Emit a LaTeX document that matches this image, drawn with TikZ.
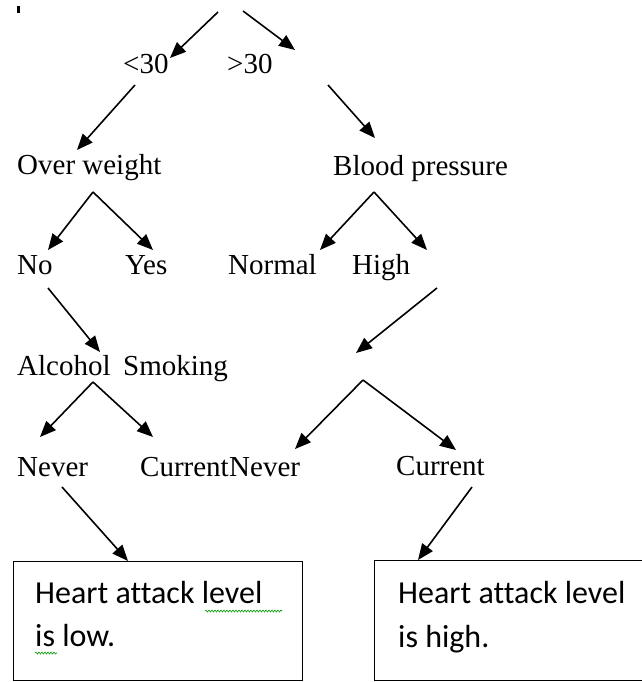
\documentclass[tikz,border=0pt]{standalone}
\usepackage{fontspec}
\setmainfont{Liberation Serif}
\newfontfamily\calib[Ligatures=NoCommon]{Carlito}
\usetikzlibrary{arrows.meta,decorations.pathmorphing}
\begin{document}
\begin{tikzpicture}[x=1pt,y=-1pt,
  lbl/.style={anchor=base west, inner sep=0pt, font=\fontsize{29}{34}\selectfont},
  boxtxt/.style={anchor=base west, inner sep=0pt, font=\calib\fontsize{32}{43}\selectfont},
  arr/.style={line width=1.6pt, -{Triangle[length=16pt,width=13pt]}},
  resbox/.style={draw, line width=1.3pt, inner sep=0pt, anchor=north west},
  squig/.style={draw=green!60!black, line width=0.6pt, decorate, decoration={snake, segment length=3pt, amplitude=1pt}}
]
\useasboundingbox (0,0) rectangle (641,682);
\fill (17,6) rectangle (20,13);

% labels
\node[lbl] (lt) at (123,74) {<30};
\node[lbl] (gt) at (227,74) {>30};
\node[lbl] (ow) at (17,174) {Over weight};
\node[lbl] (bp) at (333,175) {Blood pressure};
\node[lbl] (no) at (17,274) {No};
\node[lbl] (yes) at (125,274) {Yes};
\node[lbl] (normal) at (228,274) {Normal};
\node[lbl] (high) at (352,274) {High};
\node[lbl] (alc) at (17,375) {Alcohol};
\node[lbl] (smk) at (123,375) {Smoking};
\node[lbl] (nevA) at (17,476) {Never};
\node[lbl] (curA) at (140,476) {Current};
\node[lbl] (nevB) at (curA.base east) {Never};
\node[lbl] (curB) at (396,475) {Current};

% result boxes
\node[resbox, minimum width=289pt, minimum height=119pt] (lowbox) at (13,561) {};
\node[resbox, minimum width=300pt, minimum height=120pt] (highbox) at (374,560) {};
\node[boxtxt] (lowA) at (35,603) {Heart attack level};
\node[boxtxt] (lowB) at (35,646) {is low.};
\node[boxtxt] (highA) at (398,603) {Heart attack level};
\node[boxtxt] (highB) at (398,647) {is high.};
\draw[squig] (205,611) -- (282,611);
\draw[squig] (35,653) -- (57,653);

% connector end points
\coordinate (t1) at (218,12); \coordinate (t1e) at (170,58);
\coordinate (t2) at (243,11); \coordinate (t2e) at (295,50);
\coordinate (a1) at (135,85); \coordinate (a1e) at (77,150);
\coordinate (a2) at (328,85); \coordinate (a2e) at (375,138);
\coordinate (owap) at (93,192); \coordinate (owl) at (48,250); \coordinate (owr) at (153,250);
\coordinate (bpap) at (374,192); \coordinate (bpl) at (320,250); \coordinate (bpr) at (427,250);
\coordinate (b1) at (48,288); \coordinate (b1e) at (100,352);
\coordinate (b2) at (437,288); \coordinate (b2e) at (356,353);
\coordinate (alap) at (93,382); \coordinate (all) at (40,437); \coordinate (alr) at (153,437);
\coordinate (smap) at (363,380); \coordinate (sml) at (295,449); \coordinate (smr) at (456,450);
\coordinate (c1) at (62,487); \coordinate (c1e) at (128,561);
\coordinate (c2) at (472,487); \coordinate (c2e) at (418,560);

\draw[arr] (t1) -- (t1e);
\draw[arr] (t2) -- (t2e);
\draw[arr] (a1) -- (a1e);
\draw[arr] (a2) -- (a2e);
\draw[arr] (owap) -- (owl);
\draw[arr] (owap) -- (owr);
\draw[arr] (bpap) -- (bpl);
\draw[arr] (bpap) -- (bpr);
\draw[arr] (b1) -- (b1e);
\draw[arr] (b2) -- (b2e);
\draw[arr] (alap) -- (all);
\draw[arr] (alap) -- (alr);
\draw[arr] (smap) -- (sml);
\draw[arr] (smap) -- (smr);
\draw[arr] (c1) -- (c1e);
\draw[arr] (c2) -- (c2e);
\end{tikzpicture}
\end{document}
